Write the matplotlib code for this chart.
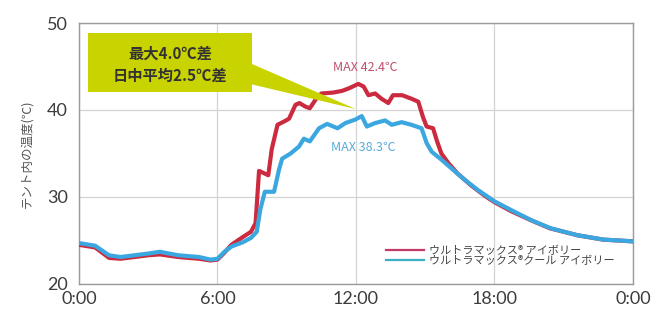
import matplotlib.pyplot as plt
from matplotlib.patches import Rectangle, Polygon
from matplotlib.lines import Line2D

plt.rcParams['font.family'] = ['Noto Sans CJK JP', 'DejaVu Sans']

# red: ウルトラマックス® アイボリー
red_hours = [0, 0.7, 1.3, 1.8, 3.0, 3.5, 4.3, 5.2, 5.7, 6.0, 6.3, 6.6, 7.1, 7.45,
             7.65, 7.8, 8.2, 8.35, 8.6, 8.9, 9.1, 9.38, 9.55, 9.8, 10.0, 10.25,
             10.5, 11.0, 11.4, 11.7, 12.1, 12.33, 12.54, 12.83, 13.1, 13.4, 13.6,
             14.0, 14.4, 14.7, 14.9, 15.06, 15.34, 15.5, 15.7, 16.0, 16.4, 17.0,
             17.6, 18.0, 18.7, 19.6, 20.4, 21.6, 22.7, 24.0]
red_temp = [24.5, 24.2, 23.0, 22.9, 23.3, 23.4, 23.1, 22.9, 22.7, 22.8, 23.6, 24.5,
            25.4, 26.0, 27.0, 33.0, 32.5, 35.5, 38.3, 38.7, 39.0, 40.6, 40.8, 40.4,
            40.2, 41.2, 41.9, 42.0, 42.2, 42.5, 43.0, 42.7, 41.7, 41.9, 41.3, 40.8,
            41.7, 41.7, 41.3, 40.95, 39.2, 38.1, 37.9, 36.5, 35.0, 33.9, 32.7, 31.3,
            30.1, 29.4, 28.4, 27.3, 26.4, 25.6, 25.1, 24.9]

# blue: ウルトラマックス®クール アイボリー
blue_hours = [0, 0.7, 1.3, 1.8, 3.0, 3.5, 4.3, 5.2, 5.7, 6.0, 6.3, 6.6, 7.1, 7.45,
              7.7, 7.85, 8.05, 8.45, 8.66, 8.8, 9.17, 9.53, 9.74, 10.0, 10.4, 10.75,
              11.2, 11.54, 11.97, 12.25, 12.47, 12.83, 13.26, 13.55, 13.98, 14.4,
              14.84, 15.06, 15.28, 15.7, 16.13, 16.7, 17.28, 18.0, 18.72, 19.58,
              20.44, 21.6, 22.74, 24.0]
blue_temp = [24.7, 24.4, 23.3, 23.1, 23.5, 23.7, 23.3, 23.1, 22.8, 22.9, 23.7, 24.3,
             24.8, 25.3, 26.0, 28.5, 30.6, 30.6, 33.1, 34.4, 35.0, 35.8, 36.7, 36.4,
             37.9, 38.4, 37.9, 38.5, 38.9, 39.3, 38.1, 38.5, 38.8, 38.3, 38.6, 38.3,
             37.9, 36.2, 35.2, 34.3, 33.3, 32.0, 30.8, 29.5, 28.5, 27.35, 26.4, 25.6,
             25.1, 24.9]

x_ticks = [0, 6, 12, 18, 24]
x_labels = ['0:00', '6:00', '12:00', '18:00', '0:00']
y_ticks = [20, 30, 40, 50]
series_names = ['ウルトラマックス® アイボリー', 'ウルトラマックス®クール アイボリー']

red = '#cc2b3f'
blue = '#3ba7e0'

fig = plt.figure(figsize=(6.55, 3.13), dpi=100)
ax = fig.add_axes([0.1206, 0.0927, 0.8458, 0.8338])

ax.plot(red_hours, red_temp, color=red, lw=3, solid_joinstyle='round', zorder=3)
ax.plot(blue_hours, blue_temp, color=blue, lw=3, solid_joinstyle='round', zorder=4)

ax.set_xlim(0, 24)
ax.set_ylim(20, 50)
ax.set_xticks(x_ticks)
ax.set_xticklabels(x_labels)
ax.set_yticks(y_ticks)
ax.tick_params(length=0, labelsize=13, labelcolor='#3c3c3c')
ax.tick_params(axis='x', pad=5)
ax.tick_params(axis='y', pad=8)
for lab in ax.get_xticklabels() + ax.get_yticklabels():
    lab.set_family(['Lato', 'DejaVu Sans'])
ax.grid(color='#d4d4d4', lw=0.9)
for s in ax.spines.values():
    s.set_color('#9a9a9a')
    s.set_linewidth(1.0)
ax.set_ylabel('テント内の温度(℃)', fontsize=9, color='#555555', labelpad=10)

# callout box
ax.add_patch(Rectangle((0.39, 42.1), 7.1, 6.75, facecolor='#c9d300',
                       edgecolor='none', zorder=5))
ax.add_patch(Polygon([(7.4, 45.4), (7.4, 43.0), (12.0, 40.1)], closed=True,
                     facecolor='#c9d300', edgecolor='none', zorder=5))
ax.text(3.95, 46.5, '最大4.0℃差', ha='center', va='center', fontsize=11,
        fontweight='bold', color='#333333', zorder=6)
ax.text(3.95, 43.9, '日中平均2.5℃差', ha='center', va='center', fontsize=11,
        fontweight='bold', color='#333333', zorder=6)

ax.text(12.4, 44.9, 'MAX 42.4℃', ha='center', va='center', fontsize=9,
        color='#c0506a', zorder=6)
ax.text(12.3, 35.75, 'MAX 38.3℃', ha='center', va='center', fontsize=9,
        color='#5aaad8', zorder=6)

handles = [Line2D([], [], color='#c23c66', lw=1.6),
           Line2D([], [], color='#3bb0c4', lw=1.6)]
leg = ax.legend(handles, series_names, loc='lower right', frameon=False,
                fontsize=8, handlelength=3.4, handletextpad=0.5,
                labelspacing=0.0, bbox_to_anchor=(0.985, 0.03))
for t in leg.get_texts():
    t.set_color('#444444')

fig.savefig('out.png', dpi=100)
